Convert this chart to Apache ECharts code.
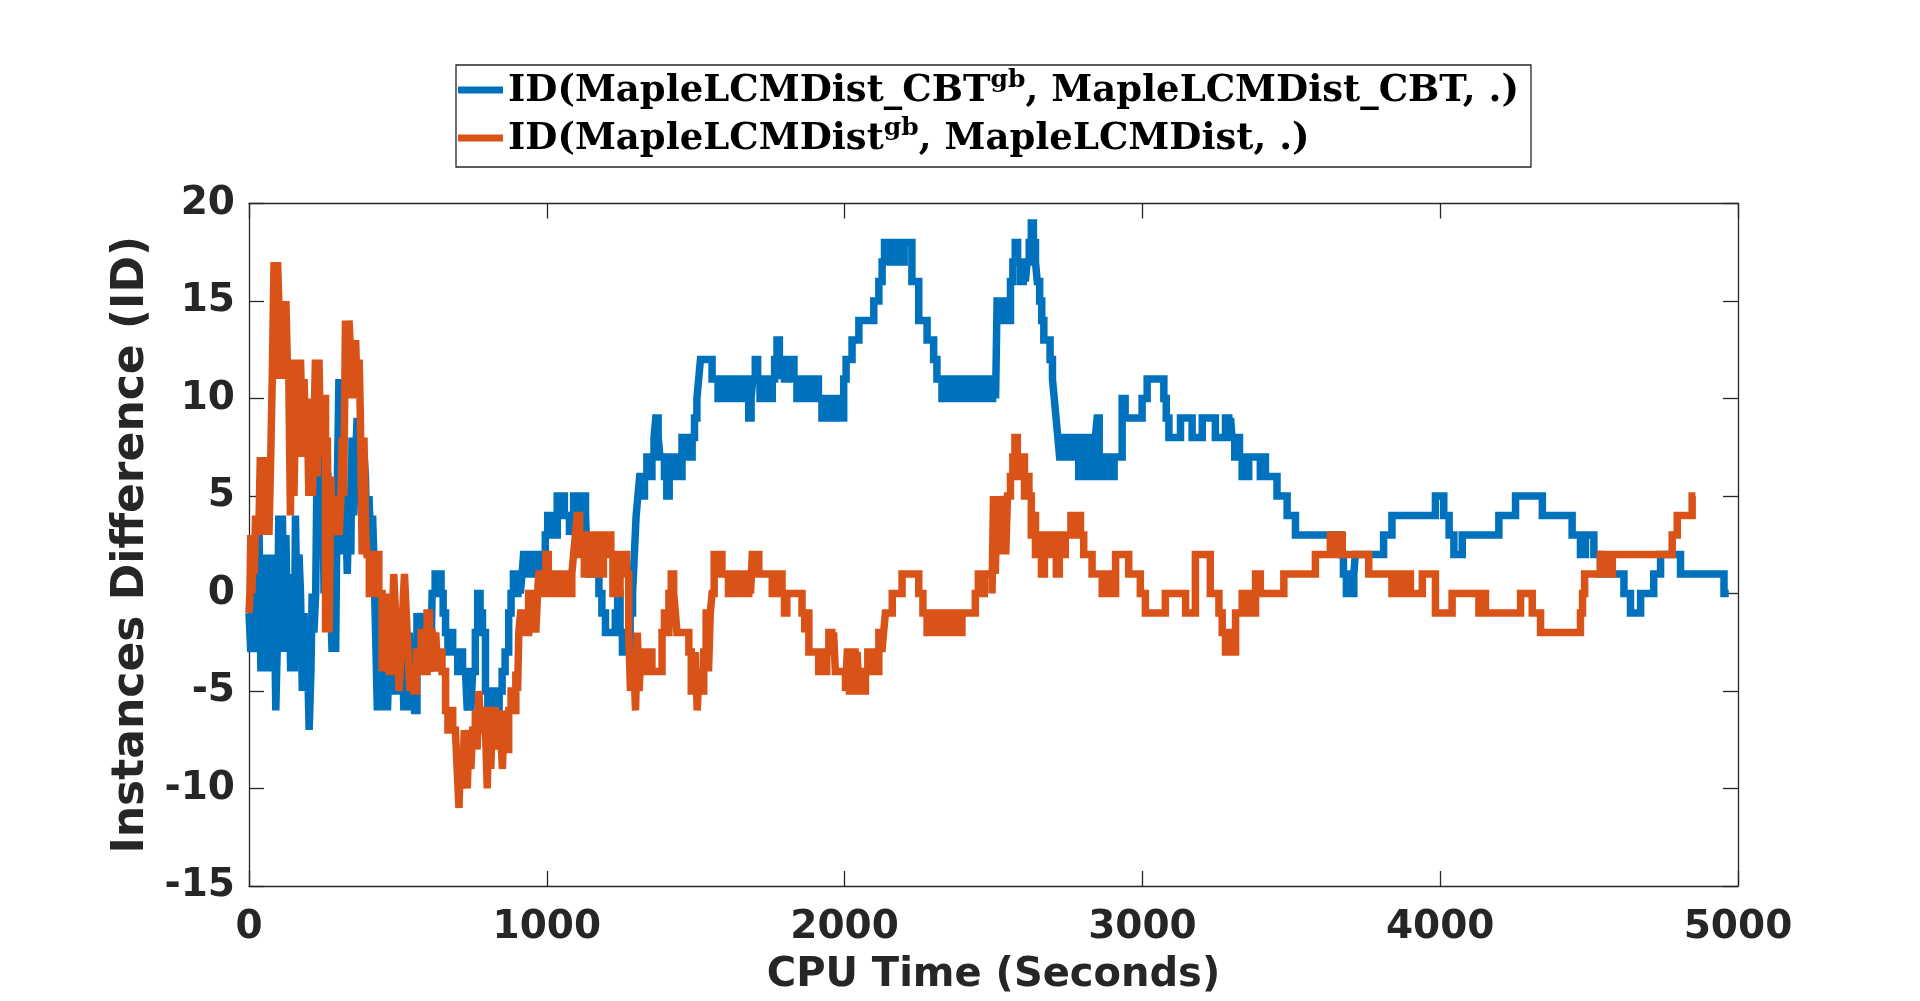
<!DOCTYPE html>
<html>
<head>
<meta charset="utf-8">
<script src="https://cdn.jsdelivr.net/npm/echarts@6/dist/echarts.min.js"></script>
<style>
html,body{margin:0;padding:0;background:#fff;}
#chart{width:1920px;height:1001px;}
</style>
</head>
<body>
<div id="chart"></div>
<script>
// Axis ticks
const xTicks = [0, 1000, 2000, 3000, 4000, 5000];
const yTicks = [-15, -10, -5, 0, 5, 10, 15, 20];

// Series names (legend, rendered with superscript)
const seriesNames = ['ID(MapleLCMDist_CBT^gb, MapleLCMDist_CBT, .)', 'ID(MapleLCMDist^gb, MapleLCMDist, .)'];

// Blue series: [CPU time (s), instances difference] – value holds from this time until the next
const blueSteps = [
 [0,-1],[6,-3],[12,0],[18,-3],[24,-1],[30,-3],
 [34,3],[40,-4],[46,2],[52,-3],
 [56,2],[62,-4],[68,0],[74,-4],[80,2],
 [84,1],[90,-6],[96,-2],
 [100,4],[106,-3],[112,4],[118,-1],[124,3],[130,-3],
 [134,1],[140,-4],[146,0],[152,-4],
 [156,4],[162,-2],[168,2],
 [173,0],[179,-5],[185,-1],[191,-5],
 [196,-3],[202,-7],[208,-4],
 [212,0],[218,-2],[224,0],
 [228,6],[234,9],[240,3],[246,8],[252,0],
 [257,6],[265,4],
 [273,0],[279,-3],[285,0],[291,-3],
 [296,5],[302,11],[308,2],[314,10],[320,4],
 [324,5],[330,1],[336,5],[342,2],
 [346,8],[352,4],[358,7],
 [363,9],[369,5],[375,8],[381,5],[387,7],
 [391,6],[397,2],[403,5],[409,2],[415,4],
 [419,2],[425,-2],[431,-6],[437,0],[443,-6],
 [447,-1],[453,-6],[459,-3],[465,-6],
 [469,-4],[477,-5],[485,-4],[493,-5],[501,-4],[509,-5],
 [514,-2],[520,-6],[526,-3],[532,-6],[538,-2],[544,-5],[550,-3],[556,-6],
 [564,-1],[570,-3],[576,-1],[582,-3],[588,-2],
 [592,-2],[598,-4],[604,-2],[610,-4],
 [615,0],[625,1],[645,0],[652,-1],
 [660,-2],[668,-3],[676,-2],[684,-3],
 [693,-3],[701,-4],[709,-3],[717,-4],
 [727,-4],[733,-6],[739,-5],[745,-6],[751,-4],
 [760,-2],[768,0],[776,-1],[784,-2],
 [794,-5],[802,-6],[810,-5],[816,-6],
 [822,-5],[830,-6],[840,-5],
 [850,-4],[860,-3],
 [872,-1],[880,0],[888,1],
 [895,0],[903,1],[911,0],[917,1],
 [922,2],[930,1],[938,2],[946,1],[954,2],[962,1],[968,2],
 [973,1],[985,2],
 [995,3],[1003,4],[1011,3],[1019,4],[1027,3],
 [1035,5],[1043,4],[1051,5],[1059,4],
 [1068,4],[1076,3],[1082,4],
 [1090,5],[1098,4],[1106,5],[1114,4],[1122,5],[1130,4],
 [1135,2],[1145,1],[1155,2],[1165,1],
 [1175,0],[1185,-1],
 [1197,-2],
 [1230,-1],[1238,0],[1246,-2],[1254,-3],
 [1264,-2],[1272,-3],[1280,-1],[1288,0],
 [1294,2],[1300,4],[1306,5],
 [1312,6],[1320,5],[1328,6],[1336,7],[1344,6],
 [1353,7],[1360,8],[1366,9],[1374,8],[1380,7],
 [1387,7],[1395,6],[1403,5],[1411,6],
 [1420,7],[1428,6],[1436,7],[1446,6],
 [1454,8],[1462,7],[1470,8],[1480,7],[1488,8],
 [1496,9],[1504,10],[1510,11],
 [1516,12],[1555,11],
 [1566,11],[1575,10],[1585,11],[1593,10],
 [1600,11],[1610,10],[1620,11],[1630,10],[1640,11],[1650,10],[1660,11],[1670,10],
 [1678,9],[1686,10],
 [1692,11],[1700,12],[1708,11],[1716,10],
 [1723,11],[1731,10],[1739,11],[1747,10],
 [1757,11],[1765,12],[1773,13],[1781,12],[1787,11],
 [1790,12],[1798,11],[1806,12],[1814,11],[1822,12],[1830,11],
 [1840,10],[1848,11],[1856,10],[1864,11],[1872,10],[1882,11],[1892,10],[1902,11],[1912,10],
 [1924,9],[1934,10],[1944,9],[1954,10],[1964,9],[1974,10],[1984,9],
 [1997,11],[2005,12],
 [2025,13],
 [2048,14],
 [2098,15],[2115,16],
 [2126,17],[2134,18],[2150,17],[2158,18],[2175,17],[2183,18],[2192,17],[2200,18],
 [2226,16],
 [2249,14],
 [2277,13],
 [2299,12],[2310,11],
 [2327,10],[2337,11],[2347,10],[2357,11],[2367,10],[2377,11],[2387,10],[2397,11],[2407,10],[2417,11],[2427,10],[2437,11],[2447,10],[2457,11],[2467,10],[2477,11],[2487,10],[2497,11],[2507,10],
 [2512,15],
 [2523,14],[2533,15],[2543,14],
 [2557,16],[2565,17],[2573,18],[2581,17],
 [2591,16],[2600,17],[2607,16],
 [2613,17],[2620,18],[2627,19],[2634,18],[2641,17],
 [2647,16],[2655,15],[2662,14],
 [2669,13],
 [2690,12],[2698,11],[2704,10],
 [2710,9],[2716,8],
 [2722,7],[2730,8],[2738,7],[2746,8],[2754,7],[2762,8],[2770,7],
 [2778,8],[2786,6],[2794,7],[2802,8],[2810,7],[2818,6],[2826,8],[2834,6],
 [2842,8],[2848,9],[2855,7],
 [2865,6],[2873,7],[2881,6],[2889,7],[2897,6],[2905,7],
 [2932,10],[2942,9],
 [2999,10],
 [3016,11],
 [3072,10],[3080,9],
 [3089,8],
 [3128,9],
 [3167,8],
 [3201,9],
 [3245,8],
 [3279,9],[3290,8],[3296,9],
 [3301,8],[3310,7],[3318,8],[3326,7],
 [3335,6],[3343,7],[3350,6],
 [3357,7],
 [3396,6],[3404,7],
 [3413,6],
 [3452,5],
 [3486,4],
 [3514,3],
 [3665,2],[3675,1],
 [3685,0],[3695,1],[3703,0],[3710,1],
 [3715,2],
 [3810,3],
 [3838,4],
 [3984,5],
 [4012,4],[4030,3],
 [4046,2],
 [4074,3],
 [4197,4],
 [4253,5],
 [4343,4],
 [4443,3],[4471,2],[4488,3],
 [4516,2],
 [4538,1],
 [4617,0],
 [4639,-1],
 [4673,0],
 [4717,1],
 [4740,2],
 [4807,1],
 [4953,0],
 [4969,0]
];

// Orange series: [CPU time (s), instances difference]
const orangeSteps = [
 [0,-1],[3,0],
 [6,3],[10,0],[14,3],[18,1],
 [22,4],[28,3],[34,4],
 [38,7],[44,3],[50,7],[56,4],
 [61,7],[67,3],[73,7],
 [78,11],[84,17],[90,11],[96,17],
 [100,15],[106,11],[112,15],[118,12],[124,15],[130,11],
 [133,12],[139,4],[145,12],[151,5],[157,10],
 [161,12],[167,7],[173,12],[179,8],[185,11],[191,7],
 [195,10],[201,5],[207,10],[213,5],[219,9],
 [223,12],[229,6],[235,12],[241,7],[247,10],
 [251,10],[257,-2],[263,8],[269,-2],[275,6],
 [279,3],[285,5],[291,3],[297,5],[303,3],[309,5],
 [313,8],[318,5],
 [324,14],[330,10],[336,14],[342,12],
 [346,13],[352,10],[358,13],[364,10],[370,12],
 [374,9],[380,2],[386,8],[392,3],
 [396,2],[404,0],[412,2],[420,0],[428,2],[436,0],
 [441,0],[447,-4],[453,-1],[459,-4],[465,0],[471,-4],
 [480,-2],[486,1],[492,-1],[498,-3],[504,-5],[510,-3],[516,-1],[522,1],[528,-1],[534,-3],[540,-5],
 [546,-4],[554,-5],[562,-3],[570,-4],[578,-2],[586,-4],
 [598,-1],[606,-2],
 [615,-2],[621,-4],[627,-2],[633,-4],
 [637,-3],[648,-4],
 [660,-6],[668,-7],[676,-6],[684,-7],
 [693,-7],[699,-9],[705,-11],[711,-8],[717,-10],[723,-7],
 [727,-8],[733,-10],[739,-7],[745,-9],[751,-7],
 [760,-6],[766,-8],[772,-5],[778,-7],[786,-6],
 [794,-7],[800,-10],[806,-6],[812,-9],[818,-6],
 [827,-8],[833,-6],[839,-8],[845,-7],[851,-9],[857,-6],[863,-8],
 [872,-6],[880,-5],[888,-6],[896,-4],[902,-5],
 [906,-2],[912,-1],[930,-2],
 [939,0],[947,-1],[955,0],[963,-2],[969,0],
 [973,1],[981,0],[989,1],[997,2],[1005,1],
 [1012,0],[1020,1],[1028,0],[1036,1],[1044,0],[1052,1],[1060,0],[1068,1],[1076,0],[1084,1],[1090,2],
 [1096,3],[1102,4],[1110,2],
 [1118,3],[1126,1],[1134,3],[1142,1],[1150,2],[1158,3],
 [1166,1],[1174,3],[1182,1],[1190,3],
 [1197,3],[1215,2],
 [1222,0],[1230,2],[1238,0],[1246,2],
 [1253,1],[1261,2],[1268,1],
 [1275,-2],[1281,-5],[1287,-3],[1293,-4],
 [1298,-6],[1304,-2],[1310,-5],[1316,-3],
 [1320,-4],[1328,-3],[1336,-4],[1344,-3],
 [1353,-4],
 [1387,-2],[1395,-1],[1403,-2],
 [1410,0],[1418,1],[1426,0],[1432,-1],
 [1437,-2],
 [1477,-3],[1485,-5],[1493,-4],
 [1499,-3],[1505,-6],[1511,-4],[1519,-5],
 [1527,-3],[1535,-1],[1543,-4],[1549,-1],
 [1555,0],[1562,2],[1570,1],
 [1578,2],[1588,1],
 [1600,1],[1610,0],[1620,1],[1630,0],[1640,1],[1650,0],[1660,1],[1670,0],
 [1678,1],[1684,0],
 [1690,2],
 [1712,1],
 [1757,0],[1765,1],[1773,0],[1781,1],
 [1790,0],[1798,-1],[1806,0],
 [1812,0],
 [1857,-1],[1866,-2],[1872,-1],
 [1880,-3],
 [1913,-4],[1923,-3],[1933,-4],[1940,-3],
 [1947,-2],[1957,-3],[1963,-2],
 [1969,-4],
 [2003,-5],[2009,-3],[2016,-5],
 [2025,-3],[2035,-4],[2042,-3],
 [2048,-5],[2056,-4],[2063,-5],
 [2070,-4],[2078,-3],[2088,-4],[2098,-3],[2106,-4],
 [2115,-2],[2125,-3],[2131,-2],
 [2137,-1],
 [2160,0],
 [2193,1],
 [2249,0],[2263,-1],
 [2277,-2],[2287,-1],[2297,-2],[2307,-1],[2317,-2],[2327,-1],[2337,-2],[2347,-1],[2357,-2],[2367,-1],[2377,-2],
 [2394,-1],
 [2439,0],[2449,1],[2459,0],[2469,1],
 [2495,0],[2500,5],[2506,1],[2512,5],
 [2518,2],[2524,5],
 [2529,3],[2535,5],[2541,2],[2547,5],
 [2557,6],[2565,7],[2572,8],[2580,7],[2588,6],
 [2596,7],[2604,5],[2612,6],
 [2619,5],[2627,3],[2634,4],
 [2641,2],[2651,3],[2661,1],[2671,3],[2681,2],[2691,3],[2701,2],[2711,1],[2721,3],[2731,2],[2741,3],
 [2753,3],[2760,4],[2770,3],[2780,4],[2792,3],
 [2803,2],
 [2831,1],
 [2865,0],[2875,1],[2885,0],[2895,1],[2903,0],
 [2910,2],
 [2954,1],
 [2993,0],
 [3010,-1],
 [3077,0],
 [3145,-1],
 [3178,2],
 [3228,0],
 [3257,-1],[3268,-2],
 [3279,-3],[3290,-2],[3300,-3],
 [3313,-1],
 [3335,0],[3350,-1],[3360,0],[3370,-1],
 [3380,1],
 [3396,0],
 [3475,1],
 [3581,2],
 [3631,3],[3645,2],[3655,3],
 [3671,2],
 [3760,1],
 [3838,0],[3860,1],[3870,0],[3890,1],[3900,0],
 [3940,1],
 [3984,-1],
 [4040,0],
 [4130,-1],[4140,0],
 [4152,-1],
 [4270,0],
 [4309,-1],
 [4337,-2],
 [4471,-1],[4478,0],[4485,1],
 [4538,2],[4548,1],[4558,2],[4568,1],[4578,2],
 [4779,3],
 [4796,4],
 [4846,5],
 [4857,5]
];

const BLUE = '#0072BD';
const ORANGE = '#D95319';
const INK = '#262626';

const chart = echarts.init(document.getElementById('chart'), null, {renderer: 'canvas'});

function legendFormatter(name) {
  const parts = name.split('^gb');
  return '{a|' + parts[0] + '}{s|gb}{a|' + parts[1] + '}';
}

const tickFont = {fontFamily: 'DejaVu Sans', fontWeight: 'bold', fontSize: 39, color: INK};
const axisLineStyle = {show: true, onZero: false, lineStyle: {color: INK, width: 1.3}};
const tickStyle = {show: true, inside: true, length: 15, lineStyle: {color: INK, width: 1.3}};

chart.setOption({
  animation: false,
  backgroundColor: '#fff',
  grid: {left: 249, top: 203.5, right: 182, bottom: 105, containLabel: false, show: false},
  legend: {
    show: true,
    orient: 'vertical',
    left: 456, top: 65,
    selectedMode: false,
    backgroundColor: '#fff',
    borderColor: INK,
    borderWidth: 1.3,
    borderRadius: 0,
    padding: [3, 12, 7, 2],
    itemGap: 4,
    icon: 'rect',
    itemWidth: 45,
    itemHeight: 7,
    formatter: legendFormatter,
    textStyle: {
      rich: {
        a: {fontFamily: 'DejaVu Serif', fontWeight: 'bold', fontSize: 37, color: '#000', lineHeight: 44, verticalAlign: 'bottom', padding:[0,0,2,0]},
        s: {fontFamily: 'DejaVu Serif', fontWeight: 'bold', fontSize: 25, color: '#000', lineHeight: 44, verticalAlign: 'top', padding:[0,0,0,0]}
      }
    },
    data: [
      {name: seriesNames[0], itemStyle: {color: BLUE}},
      {name: seriesNames[1], itemStyle: {color: ORANGE}}
    ]
  },
  xAxis: [{
    type: 'value', min: xTicks[0], max: xTicks[xTicks.length - 1], interval: 1000,
    position: 'bottom',
    name: 'CPU Time (Seconds)', nameLocation: 'middle', nameGap: 70,
    nameTextStyle: {fontFamily: 'DejaVu Sans', fontWeight: 'bold', fontSize: 40, color: INK},
    axisLine: axisLineStyle,
    axisTick: tickStyle,
    axisLabel: Object.assign({margin: 22, formatter: v => String(v)}, tickFont),
    splitLine: {show: false}
  }, {
    type: 'value', min: xTicks[0], max: xTicks[xTicks.length - 1], interval: 1000,
    position: 'top',
    axisLine: axisLineStyle,
    axisTick: tickStyle,
    axisLabel: {show: false},
    splitLine: {show: false}
  }],
  yAxis: [{
    type: 'value', min: yTicks[0], max: yTicks[yTicks.length - 1], interval: 5,
    position: 'left',
    name: 'Instances Difference (ID)', nameLocation: 'middle', nameGap: 80,
    nameTextStyle: {fontFamily: 'DejaVu Sans', fontWeight: 'bold', fontSize: 44, color: INK},
    axisLine: axisLineStyle,
    axisTick: tickStyle,
    axisLabel: Object.assign({margin: 14, formatter: v => String(v)}, tickFont),
    splitLine: {show: false}
  }, {
    type: 'value', min: yTicks[0], max: yTicks[yTicks.length - 1], interval: 5,
    position: 'right',
    axisLine: axisLineStyle,
    axisTick: tickStyle,
    axisLabel: {show: false},
    splitLine: {show: false}
  }],
  series: [{
    name: seriesNames[0], type: 'line', step: 'end',
    data: blueSteps, showSymbol: false, symbol: 'none',
    lineStyle: {color: BLUE, width: 7.5, join: 'miter', cap: 'butt'},
    itemStyle: {color: BLUE}, z: 2
  }, {
    name: seriesNames[1], type: 'line', step: 'end',
    data: orangeSteps, showSymbol: false, symbol: 'none',
    lineStyle: {color: ORANGE, width: 7.5, join: 'miter', cap: 'butt'},
    itemStyle: {color: ORANGE}, z: 3
  }]
});
</script>
</body>
</html>
